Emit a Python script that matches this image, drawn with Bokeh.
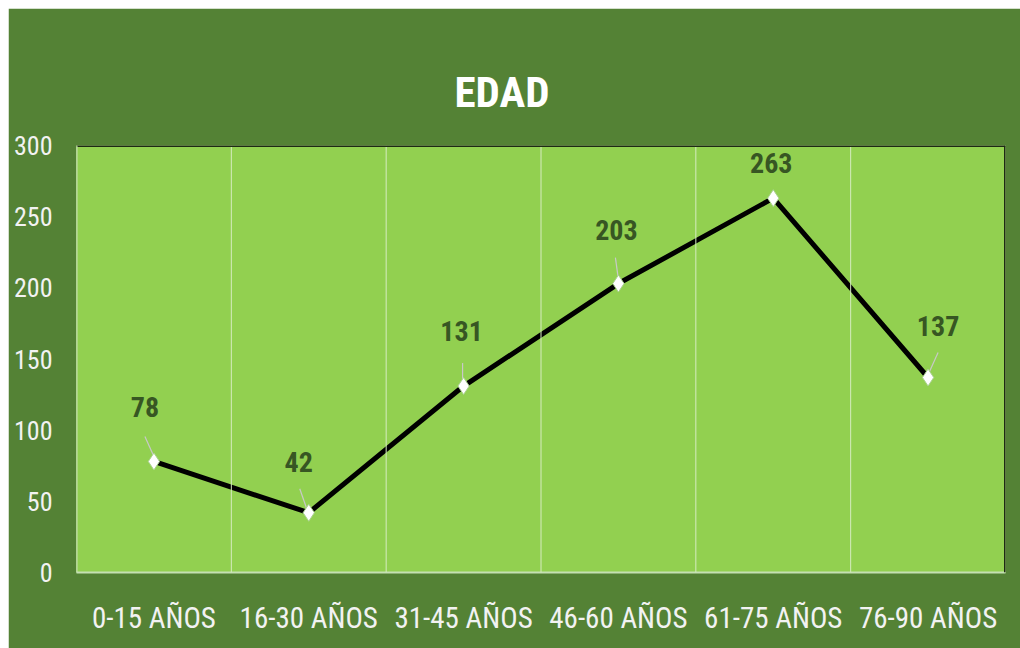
from bokeh.plotting import figure
from bokeh.models import (FactorRange, Range1d, ColumnDataSource, Span, Title,
                          SingleIntervalTicker)
from bokeh.core.properties import value
from bokeh.embed import file_html
from bokeh.resources import INLINE

# ---- data ----
categories = ["0-15 AÑOS", "16-30 AÑOS", "31-45 AÑOS", "46-60 AÑOS", "61-75 AÑOS", "76-90 AÑOS"]
counts = [78, 42, 131, 203, 263, 137]
title_text = "EDAD"

# ---- label placement (pixels, relative to point; positive = up) ----
label_dx = [-9, -10, -2, -2, -2, 10]
label_dy = [54, 51, 55, 54, 35, 52]
leader_top = [(-9, 25), (-9, 24), (-1, 23), (-3, 26), (0, 0), (10, 25)]
leader_bot = [(0, 5), (-2, 4), (-1, 7), (0, 4), (0, 0), (1, 5)]

FONT = "'Roboto Condensed', 'Roboto', sans-serif"
BG = "#548235"
PLOT_BG = "#92d050"
LABEL_COL = "#375623"

W, H = 1012, 640
ML, MR, MT, MB = 68, 15, 137, 76
frame_w = W - ML - MR
frame_h = H - MT - MB

p = figure(width=W, height=H, x_range=FactorRange(factors=categories, range_padding=0),
           y_range=Range1d(0, 300), output_backend="svg", toolbar_location=None,
           min_border_left=ML, min_border_right=MR, min_border_top=MT, min_border_bottom=MB)
p.margin = (8, 0, 0, 8)

p.background_fill_color = PLOT_BG
p.border_fill_color = BG
p.outline_line_color = None

p.add_layout(Title(text=title_text, align="left", offset=378, text_font=FONT,
                   text_font_size="43px", text_font_style="bold", text_color="white",
                   standoff=57), "above")

# axes
p.yaxis.ticker = SingleIntervalTicker(interval=50)
p.yaxis.axis_line_color = None
p.yaxis.major_tick_line_color = None
p.yaxis.major_tick_out = 0
p.yaxis.major_tick_in = 0
p.yaxis.minor_tick_line_color = None
p.yaxis.major_label_text_font = FONT
p.yaxis.major_label_text_font_size = "26px"
p.yaxis.major_label_text_color = "#f2f2f2"
p.yaxis.major_label_standoff = 20

p.xaxis.axis_line_color = "#c5e0b4"
p.xaxis.axis_line_width = 2
p.xaxis.major_tick_line_color = None
p.xaxis.major_tick_out = 0
p.xaxis.major_tick_in = 0
p.xaxis.minor_tick_line_color = None
p.xaxis.major_label_text_font = FONT
p.xaxis.major_label_text_font_size = "29px"
p.xaxis.major_label_text_color = "#f2f2f2"
p.xaxis.major_label_standoff = 28

p.xgrid.grid_line_color = None
p.ygrid.grid_line_color = None

n = len(categories)
for i in range(1, n):
    p.add_layout(Span(location=i, dimension="height", line_color="#d5ebc0", line_width=1))

p.add_layout(Span(location=300, dimension="width", line_color="#1c2b12", line_width=3))
p.add_layout(Span(location=n, dimension="height", line_color="#1c2b12", line_width=3))
p.add_layout(Span(location=0, dimension="height", line_color="#c5e0b4", line_width=2))

src = ColumnDataSource(dict(x=categories, y=counts, lbl=[str(v) for v in counts],
                            dx=label_dx, dy=[-d for d in label_dy]))
p.line("x", "y", source=src, line_color="black", line_width=5)

px_x = n / frame_w
px_y = 300 / frame_h
x0, y0, x1, y1 = [], [], [], []
for i, v in enumerate(counts):
    cx = i + 0.5
    x0.append(cx + leader_top[i][0] * px_x)
    y0.append(v + leader_top[i][1] * px_y)
    x1.append(cx + leader_bot[i][0] * px_x)
    y1.append(v + leader_bot[i][1] * px_y)
p.segment(x0=x0, y0=y0, x1=x1, y1=y1, line_color="#c8c8c8", line_width=1.2)

p.scatter("x", "y", source=src, marker="diamond", size=17, fill_color="white",
          line_color="#a9d18e", line_width=1)

p.text("x", "y", text="lbl", source=src, x_offset="dx", y_offset="dy",
       text_font=value(FONT), text_font_size="28px", text_font_style="bold",
       text_color=LABEL_COL, text_align="center", text_baseline="middle")

open("out.html", "w").write(file_html(p, INLINE))
